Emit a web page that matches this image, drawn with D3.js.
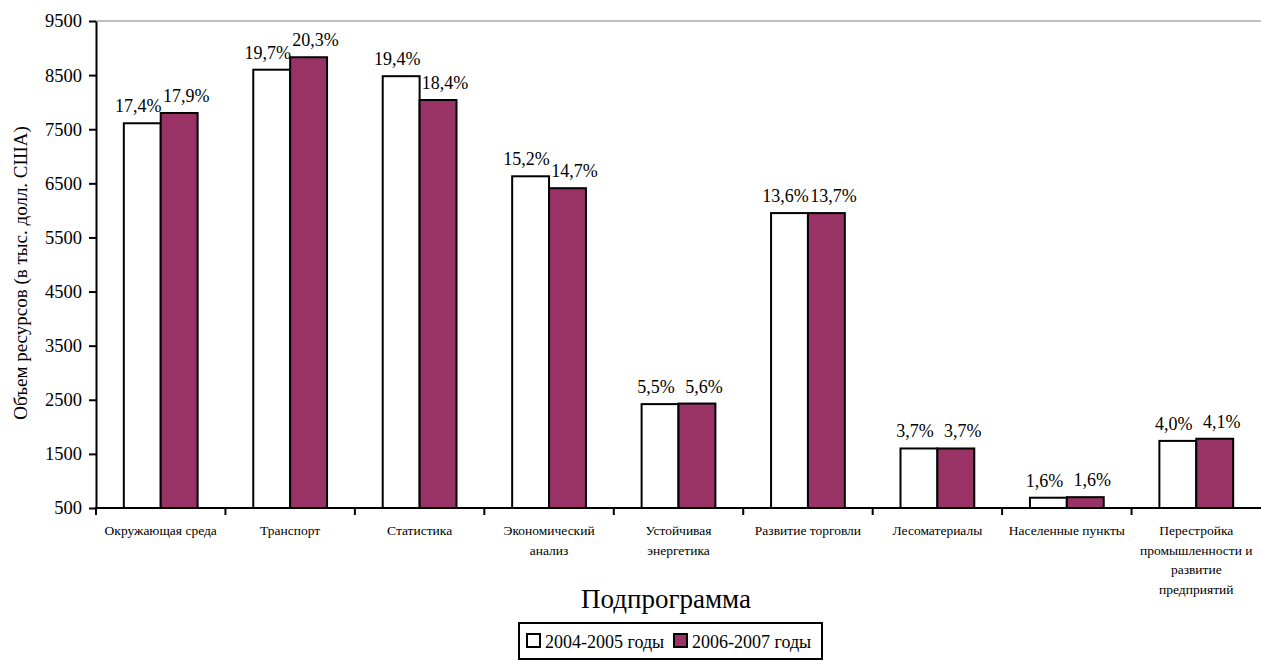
<!DOCTYPE html>
<html>
<head>
<meta charset="utf-8">
<script src="https://cdn.jsdelivr.net/npm/d3@7"></script>
<style>
  body { margin: 0; background: #fff; }
</style>
</head>
<body>
<div id="vis"><svg></svg></div>
<script>
// data
var categories = ["Окружающая среда", "Транспорт", "Статистика", "Экономический\nанализ",
    "Устойчивая\nэнергетика", "Развитие торговли", "Лесоматериалы", "Населенные пункты",
    "Перестройка\nпромышленности и\nразвитие\nпредприятий"];
var series = ["2004-2005 годы", "2006-2007 годы"];
var values2004 = [7610, 8600, 8480, 6630, 2420, 5950, 1600, 690, 1740];
var values2006 = [7800, 8830, 8040, 6410, 2430, 5950, 1600, 700, 1780];
var pct2004 = ["17,4%", "19,7%", "19,4%", "15,2%", "5,5%", "13,6%", "3,7%", "1,6%", "4,0%"];
var pct2006 = ["17,9%", "20,3%", "18,4%", "14,7%", "5,6%", "13,7%", "3,7%", "1,6%", "4,1%"];
var yTicks = [500, 1500, 2500, 3500, 4500, 5500, 6500, 7500, 8500, 9500];
var colors = ["#ffffff", "#993366"];

var FONT = "'Liberation Serif', 'Times New Roman', serif";

var W = 1261, H = 660;
var margin = {top: 21, right: 0, bottom: 152, left: 96},
    width = W - margin.left - margin.right,
    height = H - margin.top - margin.bottom;

var svg = d3.select("#vis").select("svg")
    .attr("width", W)
    .attr("height", H);

var g = svg.append("g")
    .attr("transform", "translate(" + margin.left + "," + margin.top + ")");

var x0 = d3.scaleBand()
    .domain(d3.range(categories.length))
    .range([0, width])
    .paddingInner(0.43)
    .paddingOuter(0.215);

var x1 = d3.scaleBand()
    .domain([0, 1])
    .range([0, x0.bandwidth()]);

var y = d3.scaleLinear()
    .domain([500, 9500])
    .range([height, 0]);

// top border line of plot area
g.append("line")
    .attr("x1", 0).attr("x2", width)
    .attr("y1", y(9500)).attr("y2", y(9500))
    .attr("stroke", "#c0c0c0")
    .attr("stroke-width", 2);

// bars
var rows = categories.map(function(c, i) {
    return [
        {i: i, s: 0, v: values2004[i], p: pct2004[i]},
        {i: i, s: 1, v: values2006[i], p: pct2006[i]}
    ];
});

var groups = g.selectAll(".grp")
    .data(rows)
    .enter().append("g")
    .attr("transform", function(d, i) { return "translate(" + x0(i) + ",0)"; });

groups.selectAll("rect")
    .data(function(d) { return d; })
    .enter().append("rect")
    .attr("x", function(d) { return x1(d.s); })
    .attr("y", function(d) { return y(d.v); })
    .attr("width", x1.bandwidth())
    .attr("height", function(d) { return y(500) - y(d.v); })
    .attr("fill", function(d) { return colors[d.s]; })
    .attr("stroke", "#000")
    .attr("stroke-width", 2);

groups.selectAll(".lbl")
    .data(function(d) { return d; })
    .enter().append("text")
    .attr("class", "lbl")
    .attr("x", function(d) { return x1(d.s) + x1.bandwidth() / 2 + (d.s == 0 ? -4 : 7); })
    .attr("y", function(d) { return y(d.v) - 11; })
    .attr("text-anchor", "middle")
    .style("font-family", FONT)
    .style("font-size", "18px")
    .text(function(d) { return d.p; });

// y axis
var yAxis = g.append("g")
    .call(d3.axisLeft(y).tickValues(yTicks).tickFormat(d3.format("d"))
        .tickSize(7).tickSizeOuter(0).tickPadding(7));
yAxis.selectAll("text").style("font-family", FONT).style("font-size", "18.5px").attr("fill", "#000");
yAxis.selectAll("path, line").attr("stroke", "#000").attr("stroke-width", 2);

// x axis
g.append("line")
    .attr("x1", -1).attr("x2", width)
    .attr("y1", height).attr("y2", height)
    .attr("stroke", "#000")
    .attr("stroke-width", 2);

g.selectAll(".xtick")
    .data(d3.range(categories.length))
    .enter().append("line")
    .attr("x1", function(i) { return x0(i) - x0.step() * 0.215; })
    .attr("x2", function(i) { return x0(i) - x0.step() * 0.215; })
    .attr("y1", height)
    .attr("y2", height + 7)
    .attr("stroke", "#000")
    .attr("stroke-width", 2);

var catText = g.selectAll(".cat")
    .data(categories)
    .enter().append("text")
    .attr("class", "cat")
    .attr("text-anchor", "middle")
    .attr("transform", function(d, i) {
        return "translate(" + (x0(i) + x0.bandwidth() / 2) + "," + (height + 27) + ")";
    })
    .style("font-family", FONT)
    .style("font-size", "13.5px");

catText.selectAll("tspan")
    .data(function(d) { return d.split("\n"); })
    .enter().append("tspan")
    .attr("x", 0)
    .attr("dy", function(d, j) { return j == 0 ? 0 : 19.5; })
    .text(function(d) { return d; });

// axis titles
svg.append("text")
    .attr("x", 666)
    .attr("y", 608)
    .attr("text-anchor", "middle")
    .style("font-family", FONT)
    .style("font-size", "27px")
    .text("Подпрограмма");

svg.append("text")
    .attr("transform", "translate(27,273) rotate(-90)")
    .attr("text-anchor", "middle")
    .style("font-family", FONT)
    .style("font-size", "19px")
    .text("Объем ресурсов (в тыс. долл. США)");

// legend
var legend = svg.append("g").attr("transform", "translate(519,623)");
legend.append("rect")
    .attr("width", 303).attr("height", 36)
    .attr("fill", "#fff")
    .attr("stroke", "#000")
    .attr("stroke-width", 2);

var lx = [8, 155];
series.forEach(function(s, k) {
    legend.append("rect")
        .attr("x", lx[k]).attr("y", 11)
        .attr("width", 13).attr("height", 13)
        .attr("fill", colors[k])
        .attr("stroke", "#000")
        .attr("stroke-width", 2);
    legend.append("text")
        .attr("x", lx[k] + 18).attr("y", 25)
        .style("font-family", FONT)
        .style("font-size", "18px")
        .text(s);
});
</script>
</body>
</html>
